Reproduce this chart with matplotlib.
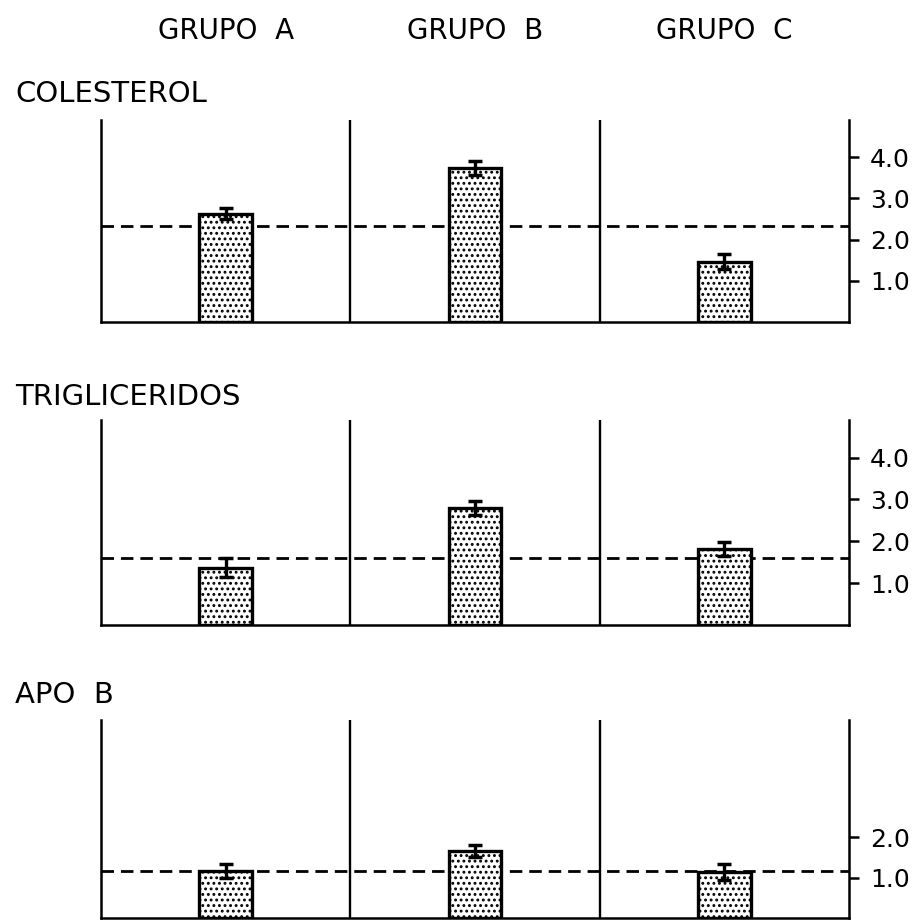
import matplotlib
matplotlib.use("Agg")
import matplotlib.pyplot as plt
from matplotlib.transforms import blended_transform_factory

plt.rcParams['hatch.linewidth'] = 1.3
plt.rcParams['font.family'] = ['DejaVu Sans']

groups = ["GRUPO  A", "GRUPO  B", "GRUPO  C"]
panel_names = ["COLESTEROL", "TRIGLICERIDOS", "APO  B"]

col_vals = [2.63, 3.73, 1.46]
col_err = [0.13, 0.17, 0.18]
col_ref = 2.32

tg_vals = [1.37, 2.79, 1.81]
tg_err = [0.22, 0.17, 0.17]
tg_ref = 1.61

apo_vals = [1.17, 1.66, 1.13]
apo_err = [0.17, 0.15, 0.20]
apo_ref = 1.16

tick_sets = [[1.0, 2.0, 3.0, 4.0], [1.0, 2.0, 3.0, 4.0], [1.0, 2.0]]

values = [col_vals, tg_vals, apo_vals]
errors = [col_err, tg_err, apo_err]
refs = [col_ref, tg_ref, apo_ref]

W, H = 919, 922
fig = plt.figure(figsize=(W / 100, H / 100), dpi=100)

# panel geometry in pixels (top, bottom)
panels_px = [(120, 322), (420, 625), (720, 918)]
left_px, right_px = 101, 849
label_y_px = [94, 397, 695]

axes = []
for i, (top, bot) in enumerate(panels_px):
    ax = fig.add_axes([left_px / W, 1 - bot / H, (right_px - left_px) / W, (bot - top) / H])
    axes.append(ax)
    x = list(range(len(groups)))
    ax.axhline(refs[i], color="black", linestyle=(0, (4.5, 2.5)), linewidth=2, zorder=2)
    ax.bar(x, values[i], width=0.21, color="white", edgecolor="black",
           linewidth=2.4, hatch="...", zorder=3)
    ax.errorbar(x, values[i], yerr=errors[i], fmt="none", ecolor="black",
                elinewidth=2.4, capsize=5, capthick=2.5, zorder=4)
    for s in [0.5, 1.5]:
        ax.axvline(s, color="black", linewidth=1.7, zorder=2)
    ax.set_xlim(-0.5, 2.5)
    ax.set_ylim(0, 4.9)
    ax.spines["top"].set_visible(False)
    for sp in ["left", "right", "bottom"]:
        ax.spines[sp].set_linewidth(1.8)
    ax.set_xticks([])
    ax.yaxis.tick_right()
    ax.set_yticks(tick_sets[i])
    ax.set_yticklabels([f"{t:.1f}" for t in tick_sets[i]])
    ax.tick_params(axis="y", direction="out", length=7, width=1.8, pad=8,
                   labelsize=18, right=True, left=False)
    fig.text(15 / W, 1 - label_y_px[i] / H, panel_names[i], fontsize=21,
             ha="left", va="center")

trans = blended_transform_factory(axes[0].transData, fig.transFigure)
for j, g in enumerate(groups):
    axes[0].text(j, 1 - 31 / H, g, transform=trans, ha="center", va="center",
                 fontsize=20)

fig.savefig("out.png", dpi=100)
